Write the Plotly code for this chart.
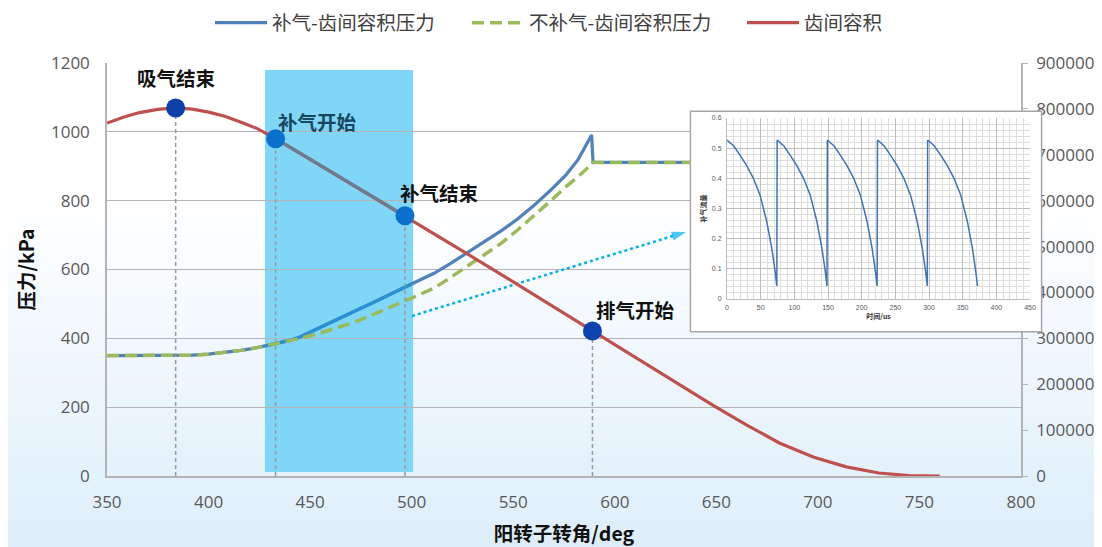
import plotly.graph_objects as go

# ---------------- data ----------------
angle_blue = [350, 383, 392, 400, 408, 416, 424, 428, 433, 440, 445, 453, 461, 470, 478, 486, 494, 500,
              511, 519, 527, 535, 544, 552, 560, 568, 576, 582, 588.6, 589.3, 640]
p_with_inj = [350, 350, 351, 354, 359, 365, 373, 378, 384, 394, 404, 426, 449, 472, 495, 518, 541, 558,
              589, 617, 647, 678, 712, 746, 785, 828, 875, 920, 991, 911, 911]

angle_green = [350, 383, 392, 400, 408, 416, 424, 428, 433, 440, 445, 453, 461, 470, 478, 486, 494, 500,
               511, 519, 527, 535, 544, 552, 560, 568, 576, 582, 588.6, 589.3, 640]
p_no_inj = [350, 350, 351, 354, 359, 365, 373, 378, 384, 393, 400, 412, 426, 443, 462, 481, 502, 517,
            546, 576, 608, 641, 676, 714, 754, 797, 841, 870, 906, 911, 911]

angle_vol = [350, 358, 366, 375, 383.8, 392, 400, 408, 416, 424, 433, 450, 475, 496.7, 527, 550, 575, 589,
             600, 615, 630, 648, 665, 681, 698, 714, 730, 745, 760]
volume = [769000, 782000, 792000, 799000, 802000, 799500, 793000, 784000, 771000, 757000, 735000, 690000,
          623000, 567000, 485000, 423000, 355000, 316000, 287000, 245000, 204000, 155000, 111000,
          72000, 41000, 20000, 6500, 1000, 0]

event_angle = [383.8, 433, 496.7, 589]
event_volume = [802000, 735000, 567000, 316000]
event_label = ["吸气结束", "补气开始", "补气结束", "排气开始"]
event_label_pos = [(384, 1157), (453.4, 1029), (513.5, 823), (610.2, 485)]

inj_window = [427.8, 500.7]
inj_window_p = [11.6, 1180]

arrow_x = [500.2, 635]
arrow_y = [465, 709]

# inset: injection flow vs time
t_us = [0, 10, 19, 29, 39, 49, 59, 66.5, 71.5, 74,
        74.5, 84.5, 93.5, 103.5, 113.5, 123.5, 133.5, 141, 146, 148.5,
        149, 159, 168, 178, 188, 198, 208, 215.5, 220.5, 223,
        223.5, 233.5, 242.5, 252.5, 262.5, 272.5, 282.5, 290, 295, 297.5,
        298, 308, 317, 327, 337, 347, 357, 364.5, 369.5, 372]
flow = [0.527, 0.507, 0.478, 0.443, 0.401, 0.345, 0.257, 0.168, 0.091, 0.043,
        0.527, 0.507, 0.478, 0.443, 0.401, 0.345, 0.257, 0.168, 0.091, 0.043,
        0.527, 0.507, 0.478, 0.443, 0.401, 0.345, 0.257, 0.168, 0.091, 0.043,
        0.527, 0.507, 0.478, 0.443, 0.401, 0.345, 0.257, 0.168, 0.091, 0.043,
        0.527, 0.507, 0.478, 0.443, 0.401, 0.345, 0.257, 0.168, 0.091, 0.043]

# ---------------- figure ----------------
OFF = 8                      # page body margin
W, H = 1102 - OFF, 547 - OFF
def px_x(p): return (p - OFF) / W
def px_y(p): return 1 - (p - OFF) / H

CJK = "Noto Sans CJK SC"
BLUE = "#4f81bd"
GREEN = "#9bbb59"
RED = "#c0504d"
GRID = "#b4b4b4"

fig = go.Figure()

# background gradient (paper)
nb = 40
top_px, bot_px = 200, 547
c0 = (255, 255, 255)
c1 = (221, 238, 250)
for i in range(nb):
    y0p = top_px + (bot_px - top_px) * i / nb
    y1p = top_px + (bot_px - top_px) * (i + 1) / nb
    f = (i + 0.5) / nb
    col = tuple(int(round(c0[k] + (c1[k] - c0[k]) * f)) for k in range(3))
    fig.add_shape(type="rect", xref="paper", yref="paper", x0=0, x1=1,
                  y0=px_y(y1p + 0.5), y1=px_y(y0p), fillcolor="rgb(%d,%d,%d)" % col,
                  line_width=0, layer="below")

# injection window
fig.add_shape(type="rect", xref="x", yref="y", x0=inj_window[0], x1=inj_window[1],
              y0=inj_window_p[0], y1=inj_window_p[1], fillcolor="#7fd6f6",
              line_width=0, layer="below")

# pressure curves
fig.add_trace(go.Scatter(x=angle_blue, y=p_with_inj, mode="lines", name="补气-齿间容积压力",
                         line=dict(color=BLUE, width=3.2), legend="legend",
                         xaxis="x", yaxis="y"))
bseg = [(a, p) for a, p in zip(angle_blue, p_with_inj) if inj_window[0] <= a <= inj_window[1]]
fig.add_trace(go.Scatter(x=[s[0] for s in bseg], y=[s[1] for s in bseg], mode="lines",
                         showlegend=False, line=dict(color="#2a92d4", width=3.2),
                         xaxis="x", yaxis="y", hoverinfo="skip"))
fig.add_trace(go.Scatter(x=angle_green, y=p_no_inj, mode="lines", name="不补气-齿间容积压力",
                         line=dict(color=GREEN, width=3.5, dash="12px,6px"), legend="legend2",
                         xaxis="x", yaxis="y"))

# dotted arrow to inset
fig.add_trace(go.Scatter(x=arrow_x, y=arrow_y, mode="lines+markers", showlegend=False,
                         line=dict(color="#00b0f0", width=2.5, dash="dot"),
                         marker=dict(symbol="arrow", size=[0, 15], angleref="previous",
                                     color="#00b0f0", line_width=0),
                         xaxis="x", yaxis="y", hoverinfo="skip"))

# volume curve (right axis)
fig.add_trace(go.Scatter(x=angle_vol, y=volume, mode="lines", name="齿间容积",
                         line=dict(color=RED, width=3.2), legend="legend3",
                         xaxis="x", yaxis="y2"))
seg = [(a, v) for a, v in zip(angle_vol, volume) if event_angle[1] <= a <= event_angle[2]]
fig.add_trace(go.Scatter(x=[s[0] for s in seg], y=[s[1] for s in seg], mode="lines",
                         showlegend=False, line=dict(color="#6c7b8e", width=3.2),
                         xaxis="x", yaxis="y2", hoverinfo="skip"))

# vertical dashed drop lines from events
vx, vy = [], []
for a, v in zip(event_angle, event_volume):
    vx += [a, a, None]
    vy += [0, v, None]
fig.add_trace(go.Scatter(x=vx, y=vy, mode="lines", showlegend=False,
                         line=dict(color="#9a9a9a", width=1.5, dash="4px,3px"),
                         xaxis="x", yaxis="y2", hoverinfo="skip"))

# event markers
fig.add_trace(go.Scatter(x=event_angle, y=event_volume, mode="markers", showlegend=False,
                         marker=dict(size=19, color=["#0c40a8", "#0a72cc", "#0a6fce", "#0c43ae"],
                                     line_width=0),
                         xaxis="x", yaxis="y2", hoverinfo="skip"))

for lab, (ax_, ay_), col in zip(event_label, event_label_pos, ["#111111", "#17465f", "#111111", "#111111"]):
    fig.add_annotation(x=ax_, y=ay_, xref="x", yref="y", text="<b>%s</b>" % lab,
                       showarrow=False, font=dict(family=CJK, size=19.5, color=col))

# inset box (white card)
fig.add_trace(go.Scatter(x=[0, 1, 1, 0, 0], y=[0, 0, 1, 1, 0], mode="lines", fill="toself",
                         fillcolor="white", line=dict(color="#a6a6a6", width=1.5),
                         showlegend=False, xaxis="x2", yaxis="y3", hoverinfo="skip"))
# inset series
fig.add_trace(go.Scatter(x=t_us, y=flow, mode="lines", showlegend=False,
                         line=dict(color="#3f73b5", width=1.5),
                         xaxis="x3", yaxis="y4", hoverinfo="skip"))

tickfont = dict(family="Open Sans", size=17, color="#595959")
titlefont = dict(family=CJK, size=19.5, color="#111111")

fig.update_layout(
    width=W, height=H,
    margin=dict(l=0, r=0, t=0, b=0, autoexpand=False),
    paper_bgcolor="white",
    plot_bgcolor="rgba(0,0,0,0)",
    xaxis=dict(domain=[px_x(107), px_x(1021)], range=[350, 800], dtick=50, tick0=350,
               showgrid=False, zeroline=False, showline=True, linecolor=GRID, linewidth=1.5,
               ticks="", tickfont=tickfont, ticklabelstandoff=10, automargin=False,
               title=dict(text="<b>阳转子转角/deg</b>", font=titlefont, standoff=16)),
    yaxis=dict(domain=[px_y(476), px_y(63)], range=[0, 1200], dtick=200,
               showgrid=True, gridcolor=GRID, gridwidth=1.3, zeroline=False,
               showline=True, linecolor=GRID, linewidth=1.5, ticks="",
               tickfont=tickfont, ticklabelstandoff=12, automargin=False,
               title=dict(text="<b>压力/kPa</b>", font=titlefont, standoff=11)),
    yaxis2=dict(overlaying="y", side="right", range=[0, 900000], dtick=100000,
                tickformat="d", showgrid=False, zeroline=False, showline=True,
                linecolor=GRID, linewidth=1.5, ticks="outside", ticklen=5, tickcolor=GRID,
                tickfont=tickfont, ticklabelstandoff=5, automargin=False),
    xaxis2=dict(domain=[px_x(689), px_x(1043)], range=[-0.004, 1.004], visible=False,
                fixedrange=True),
    yaxis3=dict(domain=[px_y(333), px_y(110)], range=[-0.006, 1.006], visible=False,
                anchor="x2", fixedrange=True),
    xaxis3=dict(domain=[px_x(727), px_x(1030)], range=[0, 450], dtick=50, anchor="y4",
                showgrid=True, gridcolor="#bdbdbd", gridwidth=1,
                minor=dict(dtick=10, showgrid=True, gridcolor="#dedede", gridwidth=1),
                zeroline=False, showline=True, linecolor="#bdbdbd", ticks="",
                tickfont=dict(family="Liberation Sans", size=7, color="#595959"),
                ticklabelstandoff=2,
                title=dict(text="<b>时间/us</b>", font=dict(family=CJK, size=7, color="#333333"),
                           standoff=2)),
    yaxis4=dict(domain=[px_y(299), px_y(118)], range=[0, 0.6], dtick=0.1, anchor="x3",
                showgrid=True, gridcolor="#bdbdbd", gridwidth=1,
                minor=dict(dtick=0.02, showgrid=True, gridcolor="#dedede", gridwidth=1),
                zeroline=False, showline=True, linecolor="#bdbdbd", ticks="",
                tickfont=dict(family="Liberation Sans", size=7, color="#595959"),
                ticklabelstandoff=3,
                title=dict(text="<b>补气流量</b>", font=dict(family=CJK, size=7, color="#333333"),
                           standoff=4)),
    showlegend=True,
)

legfont = dict(family=CJK, size=19.5, color="#404040")
common = dict(orientation="h", yanchor="middle", xanchor="left", font=legfont,
              bgcolor="rgba(0,0,0,0)", itemwidth=52, borderwidth=0)
fig.update_layout(
    legend=dict(x=px_x(210), y=px_y(23), **common),
    legend2=dict(x=px_x(467), y=px_y(23), **common),
    legend3=dict(x=px_x(742), y=px_y(23), **common),
)

fig.write_html("out.html")
